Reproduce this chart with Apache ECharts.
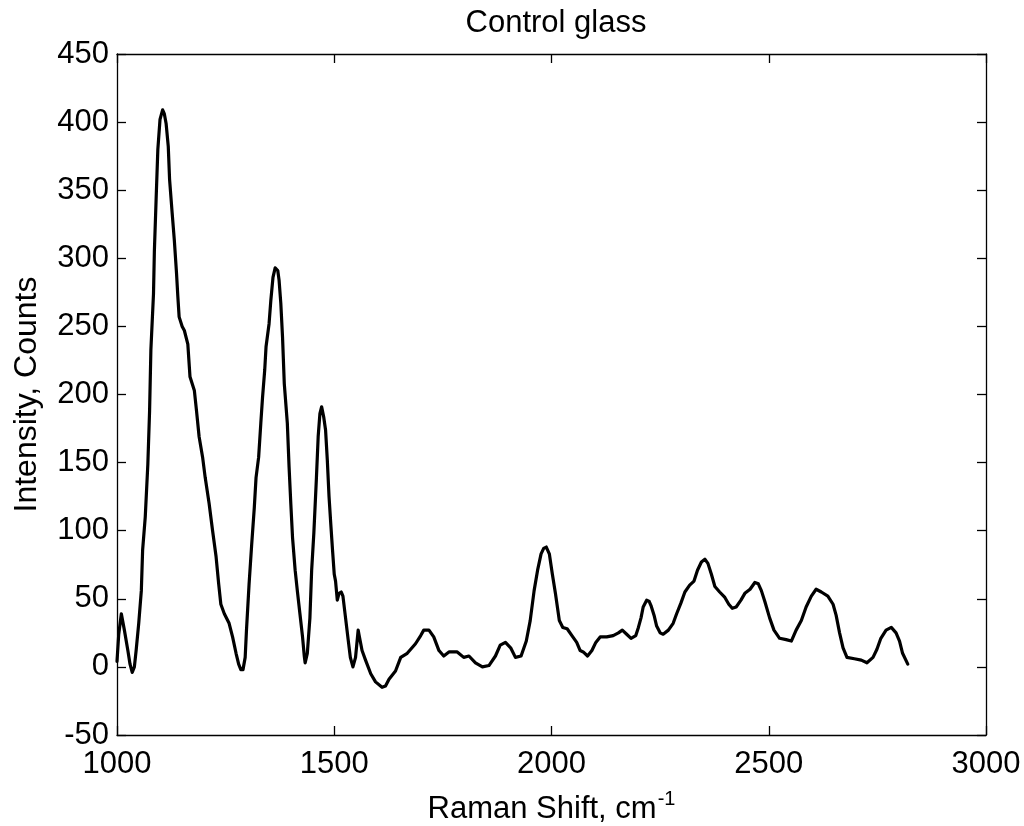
<!DOCTYPE html>
<html>
<head>
<meta charset="utf-8">
<title>Control glass</title>
<script src="https://cdn.jsdelivr.net/npm/echarts@6/dist/echarts.min.js"></script>
<style>
  html, body { margin: 0; padding: 0; background: #fff; }
  #chart { width: 1024px; height: 826px; }
</style>
</head>
<body>
<div id="chart"></div>
<script>
// Raman spectrum of the control glass sample
const ramanShift = [
  1000, 1004, 1010, 1017, 1025, 1030, 1035, 1040, 1044, 1050, 1056, 1059, 1065, 1071, 1075, 1078,
  1084, 1086, 1090, 1094, 1099, 1105, 1109, 1113, 1118, 1121, 1127, 1132, 1137, 1140, 1143, 1150,
  1155, 1163, 1168, 1178, 1183, 1189, 1197, 1203, 1212, 1220, 1228, 1234, 1239, 1247, 1258, 1266,
  1274, 1280, 1285, 1290, 1295, 1298, 1304, 1310, 1316, 1320, 1326, 1331, 1335, 1340, 1343, 1350,
  1354, 1359, 1364, 1367, 1370, 1373, 1377, 1381, 1385, 1392, 1396, 1400, 1404, 1410, 1415, 1421,
  1427, 1431, 1433, 1436, 1438, 1444, 1448, 1453, 1459, 1463, 1467, 1471, 1473, 1476, 1480, 1484,
  1488, 1492, 1496, 1500, 1503, 1507, 1511, 1516, 1520, 1526, 1532, 1537, 1543, 1549, 1555, 1558,
  1561, 1564, 1572, 1584, 1595, 1610, 1618, 1626, 1641, 1653, 1668, 1687, 1699, 1706, 1718, 1729,
  1741, 1752, 1764, 1783, 1798, 1810, 1825, 1841, 1856, 1871, 1882, 1894, 1906, 1917, 1930, 1942,
  1951, 1960, 1968, 1976, 1982, 1988, 1995, 2002, 2009, 2018, 2026, 2036, 2047, 2058, 2066, 2073,
  2083, 2093, 2102, 2112, 2127, 2142, 2154, 2163, 2173, 2183, 2194, 2200, 2206, 2211, 2219, 2225,
  2229, 2236, 2242, 2250, 2257, 2269, 2280, 2288, 2298, 2307, 2318, 2328, 2336, 2345, 2353, 2360,
  2368, 2376, 2387, 2399, 2408, 2416, 2425, 2436, 2445, 2457, 2468, 2476, 2483, 2491, 2502, 2512,
  2525, 2540, 2552, 2563, 2575, 2586, 2598, 2609, 2621, 2636, 2648, 2655, 2663, 2671, 2680, 2697,
  2713, 2726, 2740, 2749, 2758, 2770, 2782, 2793, 2801, 2808, 2820
];
const intensity = [
  4, 24, 39, 27, 12, 2, -4, 0, 12, 32, 56, 86, 110, 149, 188, 233,
  274, 305, 343, 380, 402, 409, 406, 399, 382, 358, 333, 313, 289, 272, 257, 250,
  247, 237, 213, 203, 188, 169, 154, 139, 120, 100, 81, 61, 46, 39, 32, 22,
  10, 2, -2, -2, 7, 27, 61, 90, 117, 139, 154, 179, 198, 218, 235, 252,
  269, 286, 293, 294, 291, 284, 267, 242, 208, 179, 147, 120, 95, 71, 56, 39,
  22, 8, 3, 4, 10, 36, 71, 98, 139, 169, 186, 191, 191, 183, 174, 152,
  125, 105, 86, 68, 63, 49, 54, 55, 52, 36, 20, 7, 0, 7, 27, 22,
  17, 12, 5, -5, -11, -15, -14, -9, -3, 7, 10, 17, 23, 27, 27, 22,
  12, 8, 11, 11, 7, 8, 3, 0, 1, 8, 16, 18, 14, 7, 8, 19,
  34, 56, 71, 83, 87, 88, 83, 68, 54, 34, 29, 28, 23, 18, 12, 11,
  8, 12, 18, 22, 22, 23, 25, 27, 24, 21, 23, 29, 36, 44, 49, 48,
  45, 38, 30, 25, 24, 27, 32, 39, 47, 55, 60, 63, 71, 77, 79, 76,
  68, 59, 55, 51, 46, 43, 44, 49, 54, 57, 62, 61, 56, 48, 36, 27,
  21, 20, 19, 27, 34, 44, 52, 57, 55, 52, 46, 38, 25, 14, 7, 6,
  5, 3, 7, 13, 21, 27, 29, 25, 19, 10, 2
];

const xRange = { min: 1000, max: 3000, interval: 500 };
const yRange = { min: -50, max: 450, interval: 50 };

const titleText = 'Control glass';
const xName = 'Raman Shift, cm';
const xNameSup = '-1';
const yName = 'Intensity, Counts';

const FONT = '"Liberation Sans", Arial, sans-serif';
const INK = '#000';

const spectrum = ramanShift.map((x, i) => [x, intensity[i]]);

const frameLine = { show: true, onZero: false, lineStyle: { color: INK, width: 1.3 } };
const innerTick = { show: true, inside: true, length: 9, lineStyle: { color: INK, width: 1.3 } };
const plainNumber = (v) => String(v);

const chart = echarts.init(document.getElementById('chart'), null, { renderer: 'canvas' });

chart.setOption({
  backgroundColor: '#fff',
  animation: false,
  title: {
    text: titleText,
    left: 551,
    top: 3,
    textAlign: 'center',
    textStyle: { fontFamily: FONT, fontSize: 31, fontWeight: 'normal', color: INK }
  },
  // fixed plot box; labels may sit in the outer margin freely
  grid: { left: 117, right: 38, top: 54, bottom: 91, containLabel: false, outerBoundsMode: 'none' },
  xAxis: [
    {
      type: 'value',
      position: 'bottom',
      min: xRange.min, max: xRange.max, interval: xRange.interval,
      axisLine: frameLine,
      axisTick: innerTick,
      splitLine: { show: false },
      axisLabel: {
        margin: 14, fontFamily: FONT, fontSize: 31, color: INK,
        showMinLabel: true, showMaxLabel: true, formatter: plainNumber
      },
      name: '{base|' + xName + '}{sup|' + xNameSup + '}',
      nameLocation: 'middle',
      nameGap: 54,
      nameTextStyle: {
        rich: {
          base: { fontFamily: FONT, fontSize: 31, color: INK, verticalAlign: 'bottom', lineHeight: 36 },
          sup: { fontFamily: FONT, fontSize: 20, color: INK, verticalAlign: 'top', padding: [0, 0, 18, 1], lineHeight: 36 }
        }
      }
    },
    {
      type: 'value',
      position: 'top',
      min: xRange.min, max: xRange.max, interval: xRange.interval,
      axisLine: frameLine,
      axisTick: innerTick,
      axisLabel: { show: false },
      splitLine: { show: false }
    }
  ],
  yAxis: [
    {
      type: 'value',
      position: 'left',
      min: yRange.min, max: yRange.max, interval: yRange.interval,
      axisLine: frameLine,
      axisTick: innerTick,
      splitLine: { show: false },
      axisLabel: {
        margin: 8, fontFamily: FONT, fontSize: 31, color: INK,
        showMinLabel: true, showMaxLabel: true, formatter: plainNumber
      },
      name: yName,
      nameLocation: 'middle',
      nameRotate: 90,
      nameGap: 74,
      nameTextStyle: { fontFamily: FONT, fontSize: 32, color: INK }
    },
    {
      type: 'value',
      position: 'right',
      min: yRange.min, max: yRange.max, interval: yRange.interval,
      axisLine: frameLine,
      axisTick: innerTick,
      axisLabel: { show: false },
      splitLine: { show: false }
    }
  ],
  series: [
    {
      name: titleText,
      type: 'line',
      xAxisIndex: 0,
      yAxisIndex: 0,
      data: spectrum,
      showSymbol: false,
      smooth: false,
      lineStyle: { color: INK, width: 3.2, join: 'round', cap: 'round' }
    }
  ]
});
</script>
</body>
</html>
